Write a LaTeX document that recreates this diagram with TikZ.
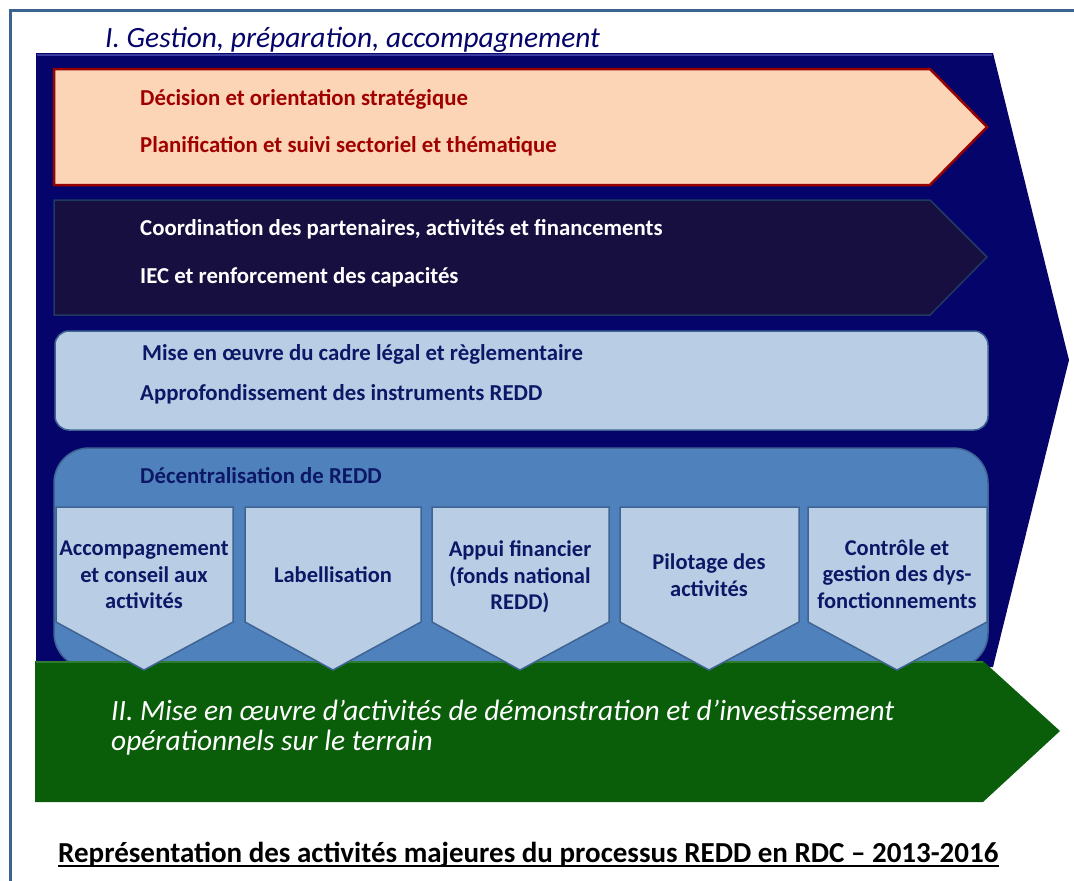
\documentclass[tikz,border=0pt]{standalone}
\usepackage{fontspec}
\setmainfont{Carlito}
\usetikzlibrary{calc}
\definecolor{framec}{HTML}{3C6491}
\definecolor{navyc}{HTML}{04046B}
\definecolor{navytop}{HTML}{3A3AA0}
\definecolor{peachc}{HTML}{FBD5B5}
\definecolor{redc}{HTML}{990000}
\definecolor{redtxt}{HTML}{A00000}
\definecolor{darkc}{HTML}{170F40}
\definecolor{darkb}{HTML}{1F3A60}
\definecolor{lightc}{HTML}{B9CDE5}
\definecolor{lightb}{HTML}{3F6493}
\definecolor{midc}{HTML}{4F81BD}
\definecolor{greenc}{HTML}{0A5E0A}
\definecolor{greenb}{HTML}{2E7D2E}
\definecolor{txtnavy}{HTML}{0C1766}
\tikzset{
  lefttxt/.style={anchor=base west,inner sep=0,font=\fontsize{22.8}{26}\selectfont\bfseries},
  chevbox/.style={fill=lightc,draw=lightb,line width=1.5},
  chevtxt/.style={align=center,inner sep=0,text=txtnavy,font=\fontsize{22.5}{26.5}\selectfont\bfseries},
  bigtxt/.style={anchor=base west,inner sep=0,font=\fontsize{29.4}{32}\selectfont\itshape}
}
\begin{document}
\begin{tikzpicture}[x=1pt,y=-1pt]
\useasboundingbox (0,0) rectangle (1074,881);
\fill[white] (0,0) rectangle (1074,881);
\draw[framec,line width=3] (10,881) -- (10,10) -- (1074,10);
% title
\node[bigtxt,text=navyc] (title) at (105,47) {I. Gestion, préparation, accompagnement};
% big navy shape
\fill[navyc] (36,53) -- (993,53) -- (1069,360) -- (993,667) -- (36,667) -- cycle;
\draw[navytop,line width=2] (37,55) -- (992,55);
% peach arrow
\draw[fill=peachc,draw=redc,line width=2.5] (54,69) -- (930,69) -- (987,127) -- (930,185) -- (54,185) -- cycle;
\node[lefttxt,text=redtxt] (d1) at (140,105) {Décision et orientation stratégique};
\node[lefttxt,text=redtxt] (d2) at (140,152) {Planification et suivi sectoriel et thématique};
% dark arrow
\draw[fill=darkc,draw=darkb,line width=1.5] (54,200) -- (930,200) -- (987,257) -- (930,315) -- (54,315) -- cycle;
\node[lefttxt,text=white] (c1) at (140,235) {Coordination des partenaires, activités et financements};
\node[lefttxt,text=white] (c2) at (140,283) {IEC et renforcement des capacités};
% light box
\draw[fill=lightc,draw=lightb,line width=1.5,rounded corners=14] (55,331) rectangle (988,430);
\node[lefttxt,text=txtnavy] (m1) at (142,360) {Mise en œuvre du cadre légal et règlementaire};
\node[lefttxt,text=txtnavy] (m2) at (140,400) {Approfondissement des instruments REDD};
% decentralisation box
\draw[fill=midc,draw=lightb,line width=1.5,rounded corners=35] (54,448) rectangle (988,668);
\node[lefttxt,text=txtnavy] (dec) at (140,483) {Décentralisation de REDD};
% green arrow
\fill[greenc] (35,661) -- (983,661) -- (1060,731) -- (983,802) -- (35,802) -- cycle;
\draw[greenb,line width=2] (36,662) -- (983,662);
\node[bigtxt,text=white] (g1) at (111,720) {II. Mise en œuvre d’activités de démonstration et d’investissement};
\node[bigtxt,text=white] (g2) at (111,750) {opérationnels sur le terrain};
% chevrons
\foreach \l/\r/\c in {56/233/144, 245/421/333, 432/609/520, 620/799/709, 808/987/897}{
  \draw[chevbox] (\l,507) -- (\r,507) -- (\r,622) -- (\c,670) -- (\l,622) -- cycle;
}
\node[chevtxt] (k1) at (144,575) {Accompagnement\\et conseil aux\\activités};
\node[chevtxt] (k2) at (333,575) {Labellisation};
\node[chevtxt] (k3) at (520,577) {Appui financier\\(fonds national\\REDD)};
\node[chevtxt] (k4) at (709,575) {Pilotage des\\activités};
\node[chevtxt] (k5) at (897,574) {Contrôle et\\gestion des dys-\\fonctionnements};
% caption
\node[anchor=base west,inner sep=0,font=\fontsize{29}{32}\selectfont\bfseries] (cap) at (58,862) {Représentation des activités majeures du processus REDD en RDC – 2013-2016};
\draw[line width=2] ([yshift=-3.5pt]cap.base west) -- ([yshift=-3.5pt]cap.base east);
\end{tikzpicture}
\end{document}
